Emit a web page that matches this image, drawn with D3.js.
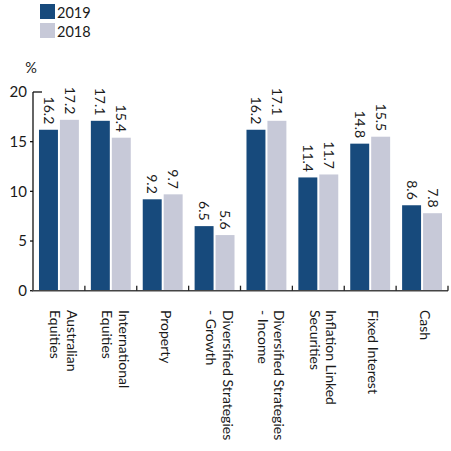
<!DOCTYPE html>
<html>
<head>
<meta charset="utf-8">
<script src="https://cdn.jsdelivr.net/npm/d3@7"></script>
<style>
  html, body { margin: 0; padding: 0; background: #fff; }
  text { font-family: Lato, "Open Sans", sans-serif; fill: #1a1a1a; }
</style>
</head>
<body>
<svg id="chart" width="451" height="451"></svg>
<script>
// Asset allocation by category, percent of portfolio
const categories = [
  ["Australian", "Equities"],
  ["International", "Equities"],
  ["Property"],
  ["Diversified Strategies", "- Growth"],
  ["Diversified Strategies", "- Income"],
  ["Inflation Linked", "Securities"],
  ["Fixed Interest"],
  ["Cash"]
];
const seriesNames = ["2019", "2018"];
const values2019 = [16.2, 17.1, 9.2, 6.5, 16.2, 11.4, 14.8, 8.6];
const values2018 = [17.2, 15.4, 9.7, 5.6, 17.1, 11.7, 15.5, 7.8];
const yTicks = [0, 5, 10, 15, 20];
const colors = ["#174a7c", "#c7c9d8"];

const svg = d3.select("#chart");
const seriesValues = [values2019, values2018];
const groupKeys = categories.map((c, i) => i);

const x = d3.scaleBand().domain(groupKeys).range([33, 448]).padding(0);
const xs = d3.scaleBand().domain(seriesNames).range([0, x.bandwidth()])
  .paddingInner(0.095).paddingOuter(0.286);
const y = d3.scaleLinear().domain([0, 20]).range([290.7, 92]);

// Bars
seriesNames.forEach((name, s) => {
  svg.append("g").selectAll("rect")
    .data(seriesValues[s])
    .join("rect")
    .attr("x", (d, i) => x(i) + xs(name))
    .attr("y", d => y(d))
    .attr("width", xs.bandwidth())
    .attr("height", d => y(0) - y(d))
    .attr("fill", colors[s]);
});

// Value labels, rotated, sitting above each bar
seriesNames.forEach((name, s) => {
  svg.append("g").selectAll("text")
    .data(seriesValues[s])
    .join("text")
    .attr("transform", (d, i) =>
      `translate(${x(i) + xs(name) + xs.bandwidth() / 2},${y(d) - 5.5}) rotate(90)`)
    .attr("text-anchor", "end")
    .attr("dy", "0.35em")
    .attr("font-size", 14)
    .text(d => d.toFixed(1));
});

// Y axis
const yAxis = svg.append("g");
yAxis.append("line")
  .attr("x1", 33).attr("x2", 33)
  .attr("y1", y(20)).attr("y2", y(0))
  .attr("stroke", "#111").attr("stroke-width", 1.3);
yAxis.selectAll("line.tick")
  .data(yTicks)
  .join("line")
  .attr("class", "tick")
  .attr("x1", d => d === 20 ? 33 : 30)
  .attr("x2", d => d === 20 ? 42 : 33)
  .attr("y1", d => y(d)).attr("y2", d => y(d))
  .attr("stroke", "#111").attr("stroke-width", 1.3);
yAxis.selectAll("text")
  .data(yTicks)
  .join("text")
  .attr("x", 27)
  .attr("y", d => y(d))
  .attr("dy", "0.36em")
  .attr("text-anchor", "end")
  .attr("font-size", 15)
  .text(d => d);

svg.append("text")
  .attr("x", 31).attr("y", 73)
  .attr("text-anchor", "middle")
  .attr("font-size", 14.5)
  .text("%");

// X axis with boundary ticks pointing up
const xAxis = svg.append("g");
xAxis.append("line")
  .attr("x1", 32).attr("x2", 448)
  .attr("y1", y(0)).attr("y2", y(0))
  .attr("stroke", "#444").attr("stroke-width", 1.5);
xAxis.selectAll("line.tick")
  .data(groupKeys)
  .join("line")
  .attr("class", "tick")
  .attr("x1", i => x(i) + x.bandwidth())
  .attr("x2", i => x(i) + x.bandwidth())
  .attr("y1", y(0)).attr("y2", y(0) - 5)
  .attr("stroke", "#222").attr("stroke-width", 1.3);

// Category labels, rotated to read downward
const catG = svg.append("g").selectAll("text")
  .data(categories)
  .join("text")
  .attr("transform", (d, i) => `translate(${x(i) + x.bandwidth() / 2},310) rotate(90)`)
  .attr("font-size", 14);
catG.each(function (lines) {
  const first = lines.length === 1 ? -2 : 8;
  d3.select(this).selectAll("tspan")
    .data(lines)
    .join("tspan")
    .attr("x", 0)
    .attr("y", (l, k) => -(first - 16.5 * k))
    .text(l => l);
});

// Legend
const legend = svg.append("g");
seriesNames.forEach((name, s) => {
  legend.append("rect")
    .attr("x", 40).attr("y", 4 + s * 19)
    .attr("width", 15).attr("height", 15)
    .attr("fill", colors[s]);
  legend.append("text")
    .attr("x", 57).attr("y", 18 + s * 19)
    .attr("font-size", 14.5)
    .text(name);
});
</script>
</body>
</html>
